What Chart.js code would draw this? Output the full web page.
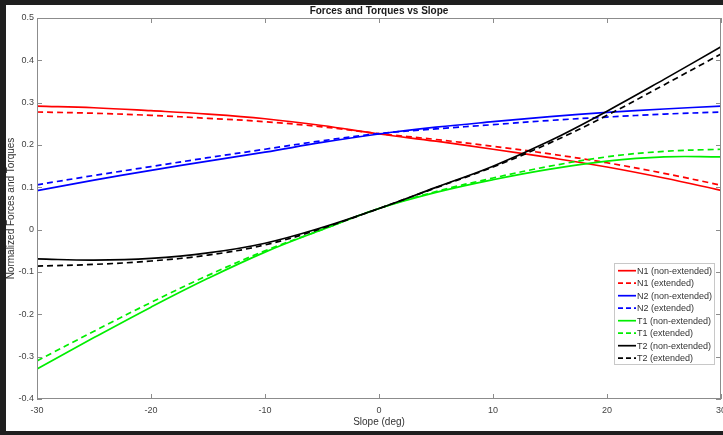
<!DOCTYPE html>
<html>
<head>
<meta charset="utf-8">
<script src="https://cdn.jsdelivr.net/npm/chart.js@4.4.1/dist/chart.umd.min.js"></script>
<style>
  html, body { margin: 0; padding: 0; background: #1f1f1f; overflow: hidden; width: 723px; height: 435px; }
  #chart { position: absolute; left: 6px; top: 5px; background: #ffffff; }
</style>
</head>
<body>
<canvas id="chart" width="746" height="426"></canvas>
<script>
// slope in degrees
const slope = [-30, -25, -20, -15, -10, -5, 0, 5, 10, 15, 20, 25, 30];

// normalized values
const n1NonExt = [0.292, 0.288, 0.281, 0.273, 0.262, 0.246, 0.226, 0.209, 0.190, 0.170, 0.148, 0.122, 0.093];
const n1Ext    = [0.278, 0.275, 0.270, 0.263, 0.255, 0.243, 0.227, 0.213, 0.197, 0.179, 0.158, 0.133, 0.105];
const n2NonExt = [0.092, 0.117, 0.140, 0.162, 0.183, 0.206, 0.226, 0.242, 0.255, 0.267, 0.277, 0.285, 0.292];
const n2Ext    = [0.106, 0.128, 0.149, 0.170, 0.190, 0.210, 0.227, 0.238, 0.248, 0.258, 0.266, 0.273, 0.278];
const t1NonExt = [-0.329, -0.255, -0.183, -0.115, -0.053, 0.000, 0.050, 0.088, 0.118, 0.143, 0.162, 0.172, 0.172];
const t1Ext    = [-0.310, -0.240, -0.172, -0.108, -0.050, 0.000, 0.050, 0.090, 0.122, 0.150, 0.172, 0.185, 0.190];
const t2NonExt = [-0.069, -0.072, -0.068, -0.055, -0.032, 0.005, 0.050, 0.100, 0.150, 0.210, 0.280, 0.355, 0.432];
const t2Ext    = [-0.086, -0.082, -0.074, -0.060, -0.036, 0.003, 0.050, 0.099, 0.148, 0.205, 0.270, 0.342, 0.415];

const xTicks = [-30, -20, -10, 0, 10, 20, 30];
const yTicks = [-0.4, -0.3, -0.2, -0.1, 0, 0.1, 0.2, 0.3, 0.4, 0.5];

const seriesNames = ['N1 (non-extended)', 'N1 (extended)', 'N2 (non-extended)', 'N2 (extended)',
                     'T1 (non-extended)', 'T1 (extended)', 'T2 (non-extended)', 'T2 (extended)'];
const seriesValues = [n1NonExt, n1Ext, n2NonExt, n2Ext, t1NonExt, t1Ext, t2NonExt, t2Ext];
const seriesColors = ['#ff0000', '#ff0000', '#0000ff', '#0000ff', '#00ee00', '#00ee00', '#000000', '#000000'];

const FONT = 'Liberation Sans, Arial, Helvetica, sans-serif';
const AXIS_GRAY = '#8c8c8c';

const datasets = seriesValues.map((vals, i) => ({
    label: seriesNames[i],
    data: vals.map((v, k) => ({ x: slope[k], y: v })),
    borderColor: seriesColors[i],
    backgroundColor: seriesColors[i],
    borderWidth: 1.7,
    borderDash: i % 2 === 1 ? [6, 4] : [],
    pointRadius: 0,
    tension: 0.4,
    fill: false,
    order: seriesNames.length - i
}));

// box, inward ticks, title and legend drawn like the matlab figure
const matlabFrame = {
    id: 'matlabFrame',
    afterDatasetsDraw(chart) {
        const { ctx, chartArea: a, scales } = chart;
        ctx.save();
        ctx.strokeStyle = AXIS_GRAY;
        ctx.lineWidth = 1;
        ctx.strokeRect(a.left + 0.5, a.top + 0.5, a.right - a.left - 1, a.bottom - a.top - 1);
        ctx.beginPath();
        xTicks.forEach(t => {
            const x = Math.round(scales.x.getPixelForValue(t)) + 0.5;
            ctx.moveTo(x, a.bottom); ctx.lineTo(x, a.bottom - 5);
            ctx.moveTo(x, a.top); ctx.lineTo(x, a.top + 5);
        });
        yTicks.forEach(t => {
            const y = Math.round(scales.y.getPixelForValue(t)) + 0.5;
            ctx.moveTo(a.left, y); ctx.lineTo(a.left + 5, y);
            ctx.moveTo(a.right, y); ctx.lineTo(a.right - 5, y);
        });
        ctx.stroke();

        // title
        ctx.fillStyle = '#1a1a1a';
        ctx.font = 'bold 10px ' + FONT;
        ctx.textAlign = 'center';
        ctx.textBaseline = 'middle';
        ctx.fillText('Forces and Torques vs Slope', (a.left + a.right) / 2, 6);

        // legend
        const bx = 608, by = 258, bw = 101, bh = 102;
        ctx.fillStyle = '#ffffff';
        ctx.fillRect(bx, by, bw, bh);
        ctx.strokeStyle = '#c8c8c8';
        ctx.strokeRect(bx + 0.5, by + 0.5, bw - 1, bh - 1);
        ctx.font = '9px ' + FONT;
        ctx.textAlign = 'left';
        chart.data.datasets.forEach((ds, i) => {
            const y = by + 7.7 + i * 12.5;
            ctx.strokeStyle = ds.borderColor;
            ctx.lineWidth = 1.7;
            ctx.setLineDash(ds.borderDash.length ? [5, 3] : []);
            ctx.beginPath();
            ctx.moveTo(bx + 4, y); ctx.lineTo(bx + 22, y);
            ctx.stroke();
            ctx.setLineDash([]);
            ctx.fillStyle = '#333333';
            ctx.fillText(ds.label, bx + 23, y + 0.5);
        });
        ctx.restore();
    }
};

new Chart(document.getElementById('chart'), {
    type: 'line',
    data: { datasets: datasets },
    options: {
        responsive: false,
        animation: false,
        layout: { padding: { top: 13, right: 31, left: 0, bottom: 0 } },
        plugins: { legend: { display: false }, title: { display: false }, tooltip: { enabled: false } },
        scales: {
            x: {
                type: 'linear',
                min: -30, max: 30,
                afterBuildTicks: s => { s.ticks = xTicks.map(v => ({ value: v })); },
                afterFit: s => { s.height = 32; },
                grid: { display: false, drawTicks: false },
                border: { display: false },
                ticks: { font: { family: FONT, size: 9 }, color: '#444444', padding: 6, maxRotation: 0 },
                title: { display: true, text: 'Slope (deg)', font: { family: FONT, size: 10 }, color: '#333333', padding: { top: 0, bottom: 3 } }
            },
            y: {
                type: 'linear',
                min: -0.4, max: 0.5,
                afterBuildTicks: s => { s.ticks = yTicks.map(v => ({ value: v })); },
                afterFit: s => { s.width = 31; },
                grid: { display: false, drawTicks: false },
                border: { display: false },
                ticks: { font: { family: FONT, size: 9 }, color: '#444444', padding: 3, callback: v => String(Math.round(v * 10) / 10) },
                title: { display: true, text: 'Normalized Forces and Torques', font: { family: FONT, size: 10, lineHeight: 1 }, color: '#333333', padding: { top: 0, bottom: 0 } }
            }
        }
    },
    plugins: [matlabFrame]
});
</script>
</body>
</html>
